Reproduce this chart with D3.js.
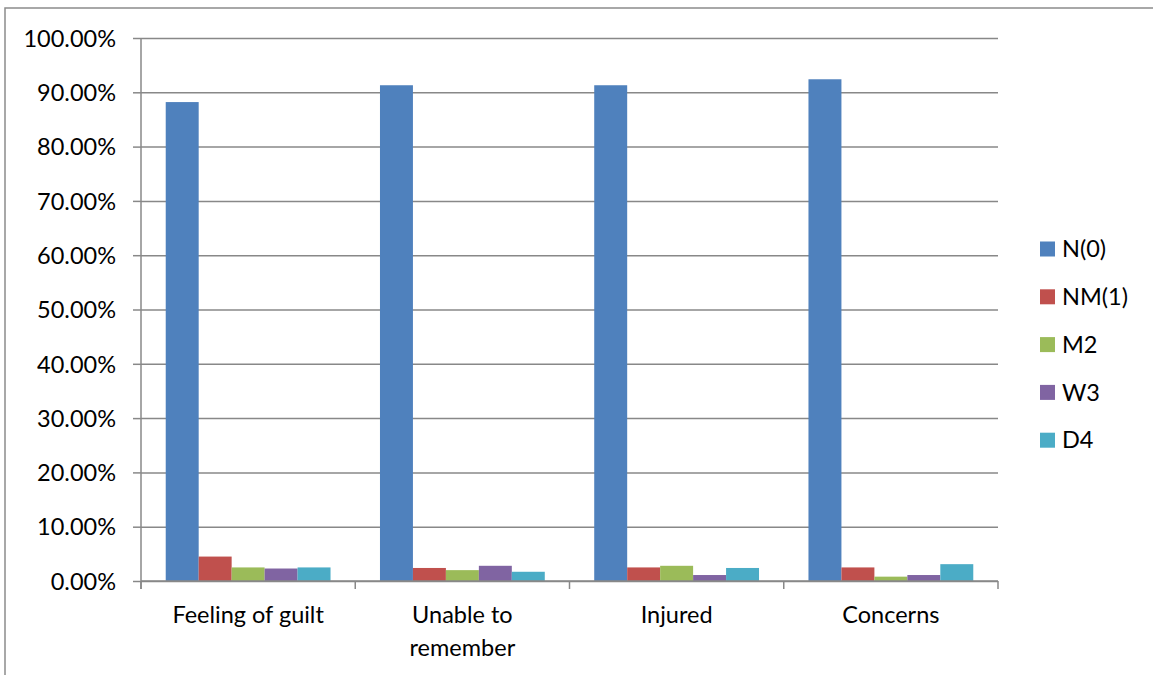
<!DOCTYPE html>
<html>
<head>
<meta charset="utf-8">
<script src="https://cdn.jsdelivr.net/npm/d3@7"></script>
<style>
  html, body { margin: 0; padding: 0; background: #fff; }
  svg { display: block; font-family: Lato, "Open Sans", sans-serif; }
</style>
</head>
<body>
<svg id="chart" width="1153" height="675"></svg>
<script>
const categories = [["Feeling of guilt"], ["Unable to", "remember"], ["Injured"], ["Concerns"]];
const categoryKeys = ["Feeling of guilt", "Unable to remember", "Injured", "Concerns"];
const seriesNames = ["N(0)", "NM(1)", "M2", "W3", "D4"];
const seriesColors = ["#4F81BD", "#C0504D", "#9BBB59", "#8064A2", "#4BACC6"];
const valN0  = [88.2, 91.3, 91.3, 92.4];
const valNM1 = [4.5, 2.4, 2.5, 2.5];
const valM2  = [2.5, 2.0, 2.8, 0.8];
const valW3  = [2.3, 2.8, 1.1, 1.1];
const valD4  = [2.5, 1.7, 2.4, 3.1];
const seriesValues = [valN0, valNM1, valM2, valW3, valD4];
const yTicks = [0, 10, 20, 30, 40, 50, 60, 70, 80, 90, 100];

const svg = d3.select("#chart");
const pLeft = 141, pRight = 998, pTop = 38, pBottom = 581;
const gridColor = "#888888";
const fs = 23.5;

// frame
svg.append("rect").attr("x", 5).attr("y", 8).attr("width", 1160).attr("height", 700)
  .attr("fill", "none").attr("stroke", "#8c8c8c").attr("stroke-width", 1.5);

const x0 = d3.scaleBand().domain(categoryKeys).range([pLeft, pRight]).padding(0);
const x1 = d3.scaleBand().domain(seriesNames).range([0, x0.bandwidth()]).paddingInner(0).paddingOuter(0.75);
const y = d3.scaleLinear().domain([0, 100]).range([pBottom, pTop]);

// gridlines + y axis
const yAxis = d3.axisLeft(y).tickValues(yTicks).tickSize(8).tickFormat(d => d.toFixed(2) + "%");
const gy = svg.append("g").attr("transform", `translate(${pLeft},0)`).call(yAxis);
gy.select(".domain").remove();
gy.selectAll(".tick line").attr("stroke", gridColor).attr("stroke-width", 1.5);
gy.selectAll(".tick text").attr("x", -25).attr("dy", "0.35em")
  .attr("font-size", fs).attr("fill", "#000").attr("font-family", "Lato, sans-serif");
gy.selectAll(".tick").append("line").attr("x1", 0).attr("x2", pRight - pLeft)
  .attr("stroke", gridColor).attr("stroke-width", 1.5);

// y axis line
svg.append("line").attr("x1", pLeft).attr("x2", pLeft).attr("y1", pTop).attr("y2", pBottom + 8)
  .attr("stroke", gridColor).attr("stroke-width", 1.5);

// bars
const groups = svg.append("g").selectAll("g").data(categoryKeys).join("g")
  .attr("transform", d => `translate(${x0(d)},0)`);
groups.selectAll("rect").data((d, i) => seriesNames.map((s, j) => ({ s, v: seriesValues[j][i], c: seriesColors[j] })))
  .join("rect")
  .attr("x", d => x1(d.s)).attr("width", x1.bandwidth())
  .attr("y", d => y(d.v)).attr("height", d => y(0) - y(d.v))
  .attr("fill", d => d.c);

// x axis
svg.append("line").attr("x1", pLeft).attr("x2", pRight).attr("y1", pBottom).attr("y2", pBottom)
  .attr("stroke", gridColor).attr("stroke-width", 1.5);
const boundaries = categoryKeys.map(k => x0(k)).concat([pRight]);
svg.append("g").selectAll("line").data(boundaries).join("line")
  .attr("x1", d => d).attr("x2", d => d).attr("y1", pBottom).attr("y2", pBottom + 8)
  .attr("stroke", gridColor).attr("stroke-width", 1.5);

// category labels
const labels = svg.append("g").selectAll("text").data(categoryKeys).join("text")
  .attr("x", d => x0(d) + x0.bandwidth() / 2).attr("y", 623)
  .attr("text-anchor", "middle").attr("font-size", fs).attr("fill", "#000");
labels.each(function (d, i) {
  const t = d3.select(this);
  categories[i].forEach((line, k) => {
    t.append("tspan").attr("x", x0(d) + x0.bandwidth() / 2).attr("dy", k === 0 ? 0 : 33).text(line);
  });
});

// legend
const legend = svg.append("g").selectAll("g").data(seriesNames).join("g")
  .attr("transform", (d, i) => `translate(1040,${249 + i * 47.8})`);
legend.append("rect").attr("x", 0).attr("y", -7.5).attr("width", 15).attr("height", 15)
  .attr("fill", (d, i) => seriesColors[i]);
legend.append("text").attr("x", 22).attr("y", 0).attr("dy", "0.35em")
  .attr("font-size", fs).attr("fill", "#000").text(d => d);
</script>
</body>
</html>
